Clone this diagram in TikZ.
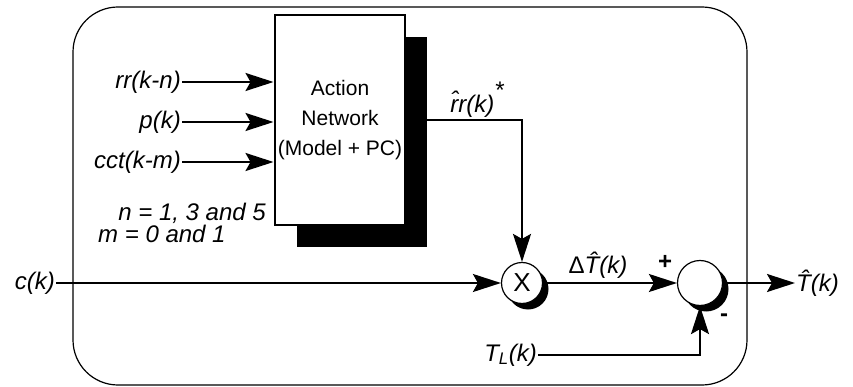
\documentclass[tikz,border=0pt]{standalone}
\usepackage{fontspec}
\setmainfont{Liberation Sans}
\usetikzlibrary{arrows.meta,positioning,shadows}

\begin{document}
\begin{tikzpicture}[x=1pt,y=-1pt,
sig/.style={font=\fontsize{24}{27}\selectfont\itshape,inner sep=1pt},
block/.style={draw,line width=2pt,fill=white,minimum width=124pt,minimum height=210pt,align=center,font=\fontsize{21}{30}\selectfont,drop shadow={shadow xshift=22pt,shadow yshift=-22pt,opacity=1,fill=black}},
junc/.style={circle,draw,line width=1.2pt,fill=white,inner sep=0pt,font=\fontsize{26}{26}\selectfont,drop shadow={shadow xshift=6pt,shadow yshift=-6pt,opacity=1,fill=black}},
sign/.style={font=\bfseries\fontsize{24}{24}\selectfont,inner sep=0pt},
arr/.style={-{Stealth[length=28pt,width=18pt,inset=5pt]},line width=2pt}
]
\useasboundingbox (0,0) rectangle (853,387);
\draw[line width=1.2pt,rounded corners=45pt] (73,7) rectangle (747,385);
\node[block] (net) at (340,120) {Action\\Network\\(Model + PC)};
\node[junc,minimum size=41pt] (mul) at (522,283) {X};
\node[junc,minimum size=45pt] (sum) at (700,283) {};
\node[sig,anchor=east] (rr) at (182,82) {rr(k-n)};
\node[sig,anchor=east] (pk) at (182,122) {p(k)};
\node[sig,anchor=east] (cct) at (182,162) {cct(k-m)};
\node[sig,anchor=east] (nval) at (267,213) {n = 1, 3 and 5};
\node[sig,anchor=west] (mval) at (97,234) {m = 0 and 1};
\node[sig] (rrhat) at (477,100) {\^rr(k)\raisebox{1.1ex}{*}};
\node[sig,anchor=east] (ck) at (56,283) {c(k)};
\node[sig,anchor=east] (TL) at (538,355) {T\textsubscript{L}(k)};
\node[sig,anchor=west] (That) at (795,283) {\^T(k)};
\node[sig] (dT) at (598,265) {\upshape Δ\itshape\^T(k)};
\node[sign] (plus) at (665,262) {+};
\node[sign] (minus) at (724,318) {-};
% inputs
\draw[arr] (rr) -- (rr -| net.west);
\draw[arr] (pk) -- (pk -| net.west);
\draw[arr] (cct) -- (cct -| net.west);
% output path
\draw[arr] (net.east) -| (mul.north);
\draw[arr] (ck) -- (mul);
\draw[arr] (mul) -- (sum);
\draw[arr] (TL) -| (sum.south);
\draw[arr] (sum) -- (That);
\end{tikzpicture}
\end{document}
